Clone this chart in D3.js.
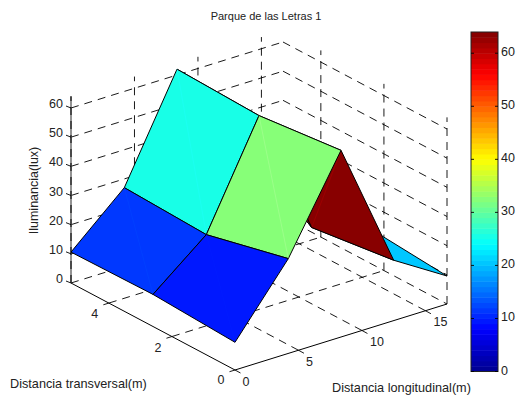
<!DOCTYPE html>
<html><head><meta charset="utf-8">
<script src="https://cdn.jsdelivr.net/npm/d3@7"></script>
<style>html,body{margin:0;padding:0;background:#fff}svg{display:block}text{font-family:"Liberation Sans",Arial,sans-serif;fill:#222}</style>
</head><body><svg id="c" width="516" height="400"></svg>
<script>
const titleText = "Parque de las Letras 1";
const xLabel = "Distancia longitudinal(m)";
const yLabel = "Distancia transversal(m)";
const zLabel = "Iluminancia(lux)";
const xGrid = [0, 4.2, 8.35, 12.5, 16.7];
const yGrid = [0, 2.6, 5.2];
const zRow0 = [9.5, 11, 10.6];
const zRow1 = [32.5, 25.8, 27];
const zRow2 = [64, 61, 62];
const zRow3 = [20.7, 17, 38];
const zRow4 = [9.6, 12, 11];
const zValues = [zRow0, zRow1, zRow2, zRow3, zRow4];
const xTicks = [0, 5, 10, 15];
const yTicks = [0, 2, 4];
const zTicks = [0, 10, 20, 30, 40, 50, 60];
const barTicks = [0, 10, 20, 30, 40, 50, 60];
const xMax = 16.7, yMax = 5.2, zMax = 64;

const svg = d3.select("#c");
// oblique projection: each data axis contributes a pixel offset
const xPx = d3.scaleLinear().domain([0, xMax]).range([235, 447]);
const xPy = d3.scaleLinear().domain([0, xMax]).range([370, 304]);
const yPx = d3.scaleLinear().domain([0, yMax]).range([0, -164]);
const yPy = d3.scaleLinear().domain([0, yMax]).range([0, -87]);
const zPy = d3.scaleLinear().domain([0, 60]).range([0, -175]);
const P = (x, y, z) => [xPx(x) + yPx(y), xPy(x) + yPy(y) + zPy(z)];

const jet = d3.scaleLinear()
  .domain([0, 1/8, 3/8, 5/8, 7/8, 1].map(d => d * zMax))
  .range(["#00008f", "#0000ff", "#00ffff", "#ffff00", "#ff0000", "#800000"])
  .clamp(true);
const band = v => jet((Math.min(63, Math.floor(v / zMax * 64)) + 0.5) / 64 * zMax);

const line = (a, b, o = {}) => svg.append("line")
  .attr("x1", a[0]).attr("y1", a[1]).attr("x2", b[0]).attr("y2", b[1])
  .attr("stroke", o.c || "#000").attr("stroke-width", o.w || 0.9)
  .attr("stroke-dasharray", o.d || null);
const DASH = "8 6";

// back walls and floor grid
zTicks.forEach(z => {
  line(P(0, yMax, z), P(xMax, yMax, z), {d: DASH});
  line(P(xMax, yMax, z), P(xMax, 0, z), {d: DASH});
});
xTicks.filter(d => d > 0).forEach(x => {
  line(P(x, 0, 0), P(x, yMax, 0), {d: DASH});
  line(P(x, yMax, 0), P(x, yMax, zMax), {d: DASH});
});
yTicks.filter(d => d > 0).forEach(y => {
  line(P(0, y, 0), P(xMax, y, 0), {d: DASH});
  line(P(xMax, y, 0), P(xMax, y, zMax), {d: DASH});
});
line(P(xMax, 0, 0), P(xMax, 0, zMax), {d: DASH});
line(P(0, yMax, 0), P(0, yMax, zMax), {c: "#777", w: 1.6});
line(P(0, yMax, 0), P(0, yMax, zMax), {d: DASH, w: 1});

// surface, painted back to front
for (let i = xGrid.length - 2; i >= 0; i--) {
  for (let j = yGrid.length - 2; j >= 0; j--) {
    const a = P(xGrid[i], yGrid[j], zValues[i][j]);
    const b = P(xGrid[i + 1], yGrid[j], zValues[i + 1][j]);
    const c = P(xGrid[i + 1], yGrid[j + 1], zValues[i + 1][j + 1]);
    const d = P(xGrid[i], yGrid[j + 1], zValues[i][j + 1]);
    const col = band(zValues[i][j]);
    svg.append("polygon").attr("points", [a, b, c, d].join(" "))
      .attr("fill", col).attr("stroke", "#000").attr("stroke-width", 1)
      .attr("stroke-linejoin", "round");
    line(a, c, {c: d3.color(col).brighter(0.9).formatHex(), w: 0.4});
  }
}

// solid axes
line(P(0, 0, 0), P(xMax, 0, 0), {w: 1});
line(P(0, 0, 0), P(0, yMax, 0), {w: 1});

// ticks and labels
const tickText = (x, y, t, anchor = "middle") => svg.append("text")
  .attr("x", x).attr("y", y).attr("text-anchor", anchor)
  .attr("font-size", 12.5).attr("dominant-baseline", "central").text(t);

xTicks.forEach(x => {
  const p = P(x, 0, 0);
  line(p, [p[0] + 5.5, p[1] + 3]);
  tickText(p[0] + (x >= 10 ? 15 : 11), p[1] + (x === 0 ? 12 : x >= 10 ? 11.5 : 12), x);
});
yTicks.forEach(y => {
  const p = P(0, y, 0);
  line(p, [p[0] - 5.5, p[1] + 1.7]);
  tickText(p[0] - 14, p[1] + 11 + (y === 0 ? -1 : 0), y);
});
zTicks.forEach(z => {
  const p = P(0, yMax, z);
  line(p, [p[0] - 5, p[1] - 2]);
  tickText(p[0] - 8, p[1] - 4, z, "end");
});

// text
svg.append("text").attr("x", 266).attr("y", 20).attr("text-anchor", "middle").attr("font-size", 11).text(titleText);
svg.append("text").attr("x", 10).attr("y", 388).attr("font-size", 12.7).text(yLabel);
svg.append("text").attr("x", 332).attr("y", 392).attr("font-size", 12.7).text(xLabel);
svg.append("text").attr("transform", "translate(38,190.5) rotate(-90)").attr("text-anchor", "middle").attr("font-size", 12.5).text(zLabel);

// colour bar
const barY = d3.scaleLinear().domain([0, zMax]).range([371.5, 32]);
const bx0 = 471, bx1 = 498;
svg.append("g").selectAll("rect").data(d3.range(64)).join("rect")
  .attr("x", bx0).attr("width", bx1 - bx0)
  .attr("y", i => barY((i + 1) / 64 * zMax))
  .attr("height", i => barY(i / 64 * zMax) - barY((i + 1) / 64 * zMax) + 0.5)
  .attr("fill", i => band((i + 0.5) / 64 * zMax));
svg.append("rect").attr("x", bx0).attr("y", 32).attr("width", bx1 - bx0).attr("height", 339.5)
  .attr("fill", "none").attr("stroke", "#222").attr("stroke-width", 1);
barTicks.forEach(t => {
  const y = barY(t);
  line([bx0, y], [bx0 + 3, y]);
  line([bx1 - 3, y], [bx1, y]);
  tickText(bx1 + 3, y - 1, t, "start");
});
</script></body></html>
